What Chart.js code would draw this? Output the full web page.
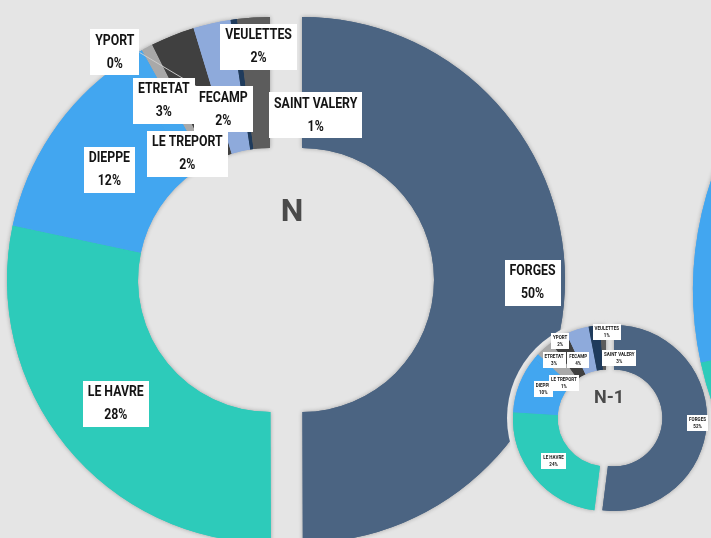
<!DOCTYPE html>
<html><head><meta charset="utf-8">
<script src="https://cdn.jsdelivr.net/npm/chart.js@4/dist/chart.umd.min.js"></script>
<style>
html,body{margin:0;padding:0;width:711px;height:538px;overflow:hidden;background:#e5e5e5;position:relative;}
canvas{position:absolute;}
</style></head><body>
<script>
// ---- DATA ----
const categories = ['FORGES','LE HAVRE','DIEPPE','LE TREPORT','SAINT VALERY','ETRETAT','FECAMP','YPORT','VEULETTES'];
const valuesN  = [50, 28.4, 12, 1.6, 0.7, 2.7, 2.3, 0.4, 2.0];
const valuesN1 = [52, 24, 10, 1, 3, 3, 4, 2, 1];
const valuesN2 = [55, 16.6, 14, 2, 2, 3, 3, 1, 3.4];
const titleN = 'N';
const titleN1 = 'N-1';

// ---- STYLE ----
const BG = '#e5e5e5';
const sliceColors = ['#4b6482','#2dcbba','#42a6f0','#44a7ef','#a9a9a9','#404040','#8eaadb','#1f3b5c','#5c5c5c'];
const bigLabelStyle = {font:15, sx:0.82, padX:5, boxH:46, gap:23};
const smallLabelStyle = {font:5.3, sx:0.85, padX:2, boxH:16, gap:7};
const offsetsN  = [[33,3],[-1,-1],[4,-1],[22,41],[138,10],[-33,4],[-3,22],[-128,-32],[1,-36]];
const offsetsN1 = [[13,1],[2,-2],[3,-3],[11,12],[60,-7],[-16,3],[-6,9],[-37,-7],[3,-15]];

function pctText(vals, i){
  const t = vals.reduce((a,b)=>a+b,0);
  return Math.round(vals[i]/t*100) + '%';
}

const shadowPlugin = {
  id:'softShadow',
  beforeDatasetsDraw(chart, args, opts){
    const ctx = chart.ctx; const meta = chart.getDatasetMeta(0);
    ctx.save();
    if (opts.halo){
      const a = meta.data[0];
      ctx.fillStyle = BG; ctx.beginPath();
      ctx.arc(a.x, a.y, a.outerRadius + opts.halo, 0, Math.PI*2); ctx.fill();
    }
    ctx.shadowColor = 'rgba(0,0,0,0.3)'; ctx.shadowBlur = opts.blur || 4;
    ctx.shadowOffsetX = 0; ctx.shadowOffsetY = 0;
    meta.data.forEach(a => a.draw(ctx));
    ctx.restore();
  }
};

function boxFor(ctx, l1, l2, x, y, st){
  ctx.font = 'bold ' + st.font + 'px Roboto, "DejaVu Sans", sans-serif';
  const w = Math.max(ctx.measureText(l1).width, ctx.measureText(l2).width) * st.sx;
  const bw = w + 2*st.padX;
  return {x:x-bw/2, y:y-st.boxH/2, w:bw, h:st.boxH, cx:x, cy:y};
}

const labelPlugin = {
  id:'donutLabels',
  afterDatasetsDraw(chart, args, o){
    if (!o.values) return;
    const ctx = chart.ctx; const meta = chart.getDatasetMeta(0);
    const boxes = [];
    meta.data.forEach((a, i) => {
      const p = a.getProps(['x','y','startAngle','endAngle','innerRadius','outerRadius'], true);
      const mid = (p.startAngle + p.endAngle)/2;
      const r = (p.innerRadius + p.outerRadius)/2;
      const corr = (i === o.explodeIndex) ? 0 : -o.dx;
      const ax = p.x + Math.cos(mid)*r + corr + o.offsets[i][0];
      const ay = p.y + Math.sin(mid)*r + o.offsets[i][1];
      boxes.push(boxFor(ctx, categories[i], pctText(o.values, i), ax, ay, o.style));
    });
    (o.leaders || []).forEach(i => {
      const a = meta.data[i];
      const p = a.getProps(['x','y','startAngle','endAngle','innerRadius','outerRadius'], true);
      const mid = (p.startAngle + p.endAngle)/2;
      const r = p.innerRadius + 0.25*(p.outerRadius - p.innerRadius);
      const tx = p.x + Math.cos(mid)*r - o.dx, ty = p.y + Math.sin(mid)*r;
      const b = boxes[i];
      ctx.save(); ctx.strokeStyle = 'rgba(205,205,205,0.95)'; ctx.lineWidth = 1;
      ctx.beginPath(); ctx.moveTo(b.x + b.w, b.cy); ctx.lineTo(tx, ty); ctx.stroke(); ctx.restore();
    });
    boxes.forEach((b, i) => {
      ctx.save();
      ctx.fillStyle = '#ffffff';
      ctx.fillRect(Math.round(b.x), Math.round(b.y), Math.round(b.w), b.h);
      ctx.font = 'bold ' + o.style.font + 'px Roboto, "DejaVu Sans", sans-serif';
      ctx.fillStyle = '#141414'; ctx.textAlign = 'center'; ctx.textBaseline = 'middle';
      ctx.translate(b.cx, b.cy); ctx.scale(o.style.sx, 1);
      ctx.fillText(categories[i], 0, -o.style.gap/2);
      ctx.fillText(pctText(o.values, i), 0, o.style.gap/2);
      ctx.restore();
    });
    if (o.title){
      const a = meta.data[0];
      ctx.save();
      ctx.font = 'bold ' + o.titleSize + 'px Roboto, "DejaVu Sans", sans-serif';
      ctx.fillStyle = '#4a4a4a'; ctx.textAlign = 'center'; ctx.textBaseline = 'middle';
      ctx.fillText(o.title, a.x - o.dx + o.titleOffset[0], a.y + o.titleOffset[1]);
      ctx.restore();
    }
  }
};

function makeChart(cx, cy, R, cutout, values, colors, pluginOpts){
  const m = 24, size = 2*R + 2*m;
  const c = document.createElement('canvas');
  c.width = size; c.height = size;
  c.style.left = (cx - size/2) + 'px'; c.style.top = (cy - size/2) + 'px';
  c.style.width = size + 'px'; c.style.height = size + 'px';
  document.body.appendChild(c);
  return new Chart(c, {
    type:'doughnut',
    data:{labels:categories, datasets:[{data:values, backgroundColor:colors, borderWidth:0, hoverOffset:0}]},
    options:{
      responsive:false, animation:false, events:[], devicePixelRatio:1,
      radius:R, cutout:cutout, layout:{padding:0},
      plugins:Object.assign({legend:{display:false}, tooltip:{enabled:false}}, pluginOpts)
    },
    plugins:[shadowPlugin, labelPlugin]
  });
}

function donut(cx, cy, R, cutout, values, dx, halo, labelOpts){
  const baseColors = sliceColors.map((c,i) => i === 0 ? 'rgba(0,0,0,0)' : c);
  const topColors  = sliceColors.map((c,i) => i === 0 ? c : 'rgba(0,0,0,0)');
  makeChart(cx, cy, R, cutout, values, baseColors, {softShadow:{halo:halo, blur:4}, donutLabels:{}});
  makeChart(cx + dx, cy, R, cutout, values, topColors,
    {softShadow:{blur:4}, donutLabels:Object.assign({values:values, dx:dx, explodeIndex:0}, labelOpts)});
}

donut(270, 280, 263, '50.2%', valuesN, 32, 0,
  {offsets:offsetsN, style:bigLabelStyle, leaders:[7], title:titleN, titleSize:32, titleOffset:[22,-67]});
makeChart(1035, 290, 342, '50%', valuesN2, sliceColors, {softShadow:{blur:4}, donutLabels:{}});
donut(606, 418, 93, '52%', valuesN1, 8, 6,
  {offsets:offsetsN1, style:smallLabelStyle, leaders:[], title:titleN1, titleSize:18, titleOffset:[3,-20]});
</script>
</body></html>
